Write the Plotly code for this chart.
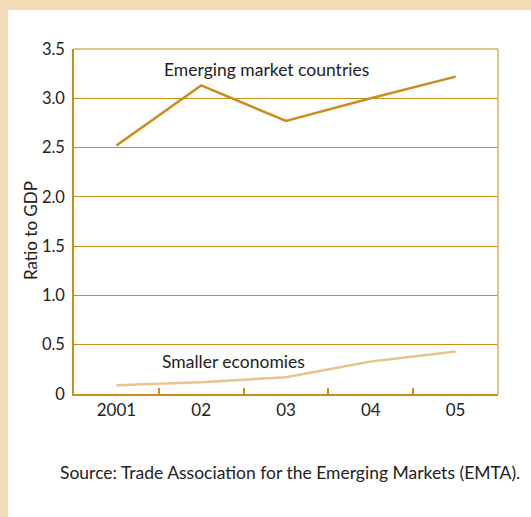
import plotly.graph_objects as go

# data
years = ["2001", "02", "03", "04", "05"]
emerging = [2.52, 3.13, 2.77, 3.00, 3.22]
smaller = [0.09, 0.12, 0.17, 0.33, 0.43]
y_ticks = [0, 0.5, 1.0, 1.5, 2.0, 2.5, 3.0, 3.5]
y_tick_text = ["0", "0.5", "1.0", "1.5", "2.0", "2.5", "3.0", "3.5"]

FONT = "Lato, 'Open Sans', sans-serif"
GOLD = "#c98e1e"
LIGHT_GOLD = "#dcae5c"
TAN = "#e9c48e"
BEIGE = "#f2dbb7"
TXT = "#222222"

W, H = 531, 517
L, R, T, B = 74, 33, 49, 123
pw, ph = W - L - R, H - T - B

def px_x(p):
    return (p - L) / pw

def px_y(p):
    return (H - B - p) / ph

fig = go.Figure()

fig.add_trace(go.Scatter(
    x=years, y=emerging, mode="lines",
    line=dict(color=GOLD, width=2.5),
    name="Emerging market countries", hoverinfo="skip"
))
fig.add_trace(go.Scatter(
    x=years, y=smaller, mode="lines",
    line=dict(color=TAN, width=2.5),
    name="Smaller economies", hoverinfo="skip"
))

# white card over the beige frame
fig.add_shape(type="rect", xref="paper", yref="paper",
              x0=px_x(8), x1=px_x(W + 5), y0=px_y(H + 5), y1=px_y(10),
              fillcolor="white", line=dict(width=0), layer="below")
# lighter top and right frame lines
fig.add_shape(type="line", xref="paper", yref="paper", x0=0, x1=1, y0=1, y1=1,
              line=dict(color=LIGHT_GOLD, width=1.5))
fig.add_shape(type="line", xref="paper", yref="paper", x0=1, x1=1, y0=0, y1=1,
              line=dict(color=LIGHT_GOLD, width=1.5))

labels = [
    ("Emerging market countries", 266, 69),
    ("Smaller economies", 233, 361),
    ("Source: Trade Association for the Emerging Markets (EMTA).", 290, 472),
]
for txt, lx, ly in labels:
    fig.add_annotation(text=txt, xref="paper", yref="paper",
                       x=px_x(lx), y=px_y(ly), xanchor="center", yanchor="middle",
                       showarrow=False,
                       font=dict(family=FONT, size=17.5, color=TXT))

# y axis title, placed by hand like in the source
fig.add_annotation(text="Ratio to GDP", xref="paper", yref="paper",
                   x=px_x(30), y=px_y(231), xanchor="center", yanchor="middle",
                   textangle=-90, showarrow=False,
                   font=dict(family=FONT, size=17, color=TXT))

fig.update_layout(
    width=W, height=H,
    margin=dict(l=L, r=R, t=T, b=B),
    paper_bgcolor=BEIGE,
    plot_bgcolor="rgba(0,0,0,0)",
    showlegend=False,
    font=dict(family=FONT, size=16, color=TXT),
    xaxis=dict(
        type="category", range=[-0.5, 4.5],
        showgrid=False, showline=True, linecolor=GOLD, linewidth=1.5,
        ticks="inside", tickson="boundaries", ticklen=6, tickcolor=GOLD,
        tickwidth=1.5, tickfont=dict(size=17, color=TXT),
    ),
    yaxis=dict(
        range=[0, 3.5], tickvals=y_ticks, ticktext=y_tick_text,
        showgrid=True, gridcolor=GOLD, gridwidth=1.2,
        showline=True, linecolor=GOLD, linewidth=1.5,
        ticks="", zeroline=False, ticklabelstandoff=4,
        tickfont=dict(size=16.5, color=TXT),
    ),
)

fig.write_html("out.html", config={"displayModeBar": False},
               post_script="document.body.style.margin='0';")
